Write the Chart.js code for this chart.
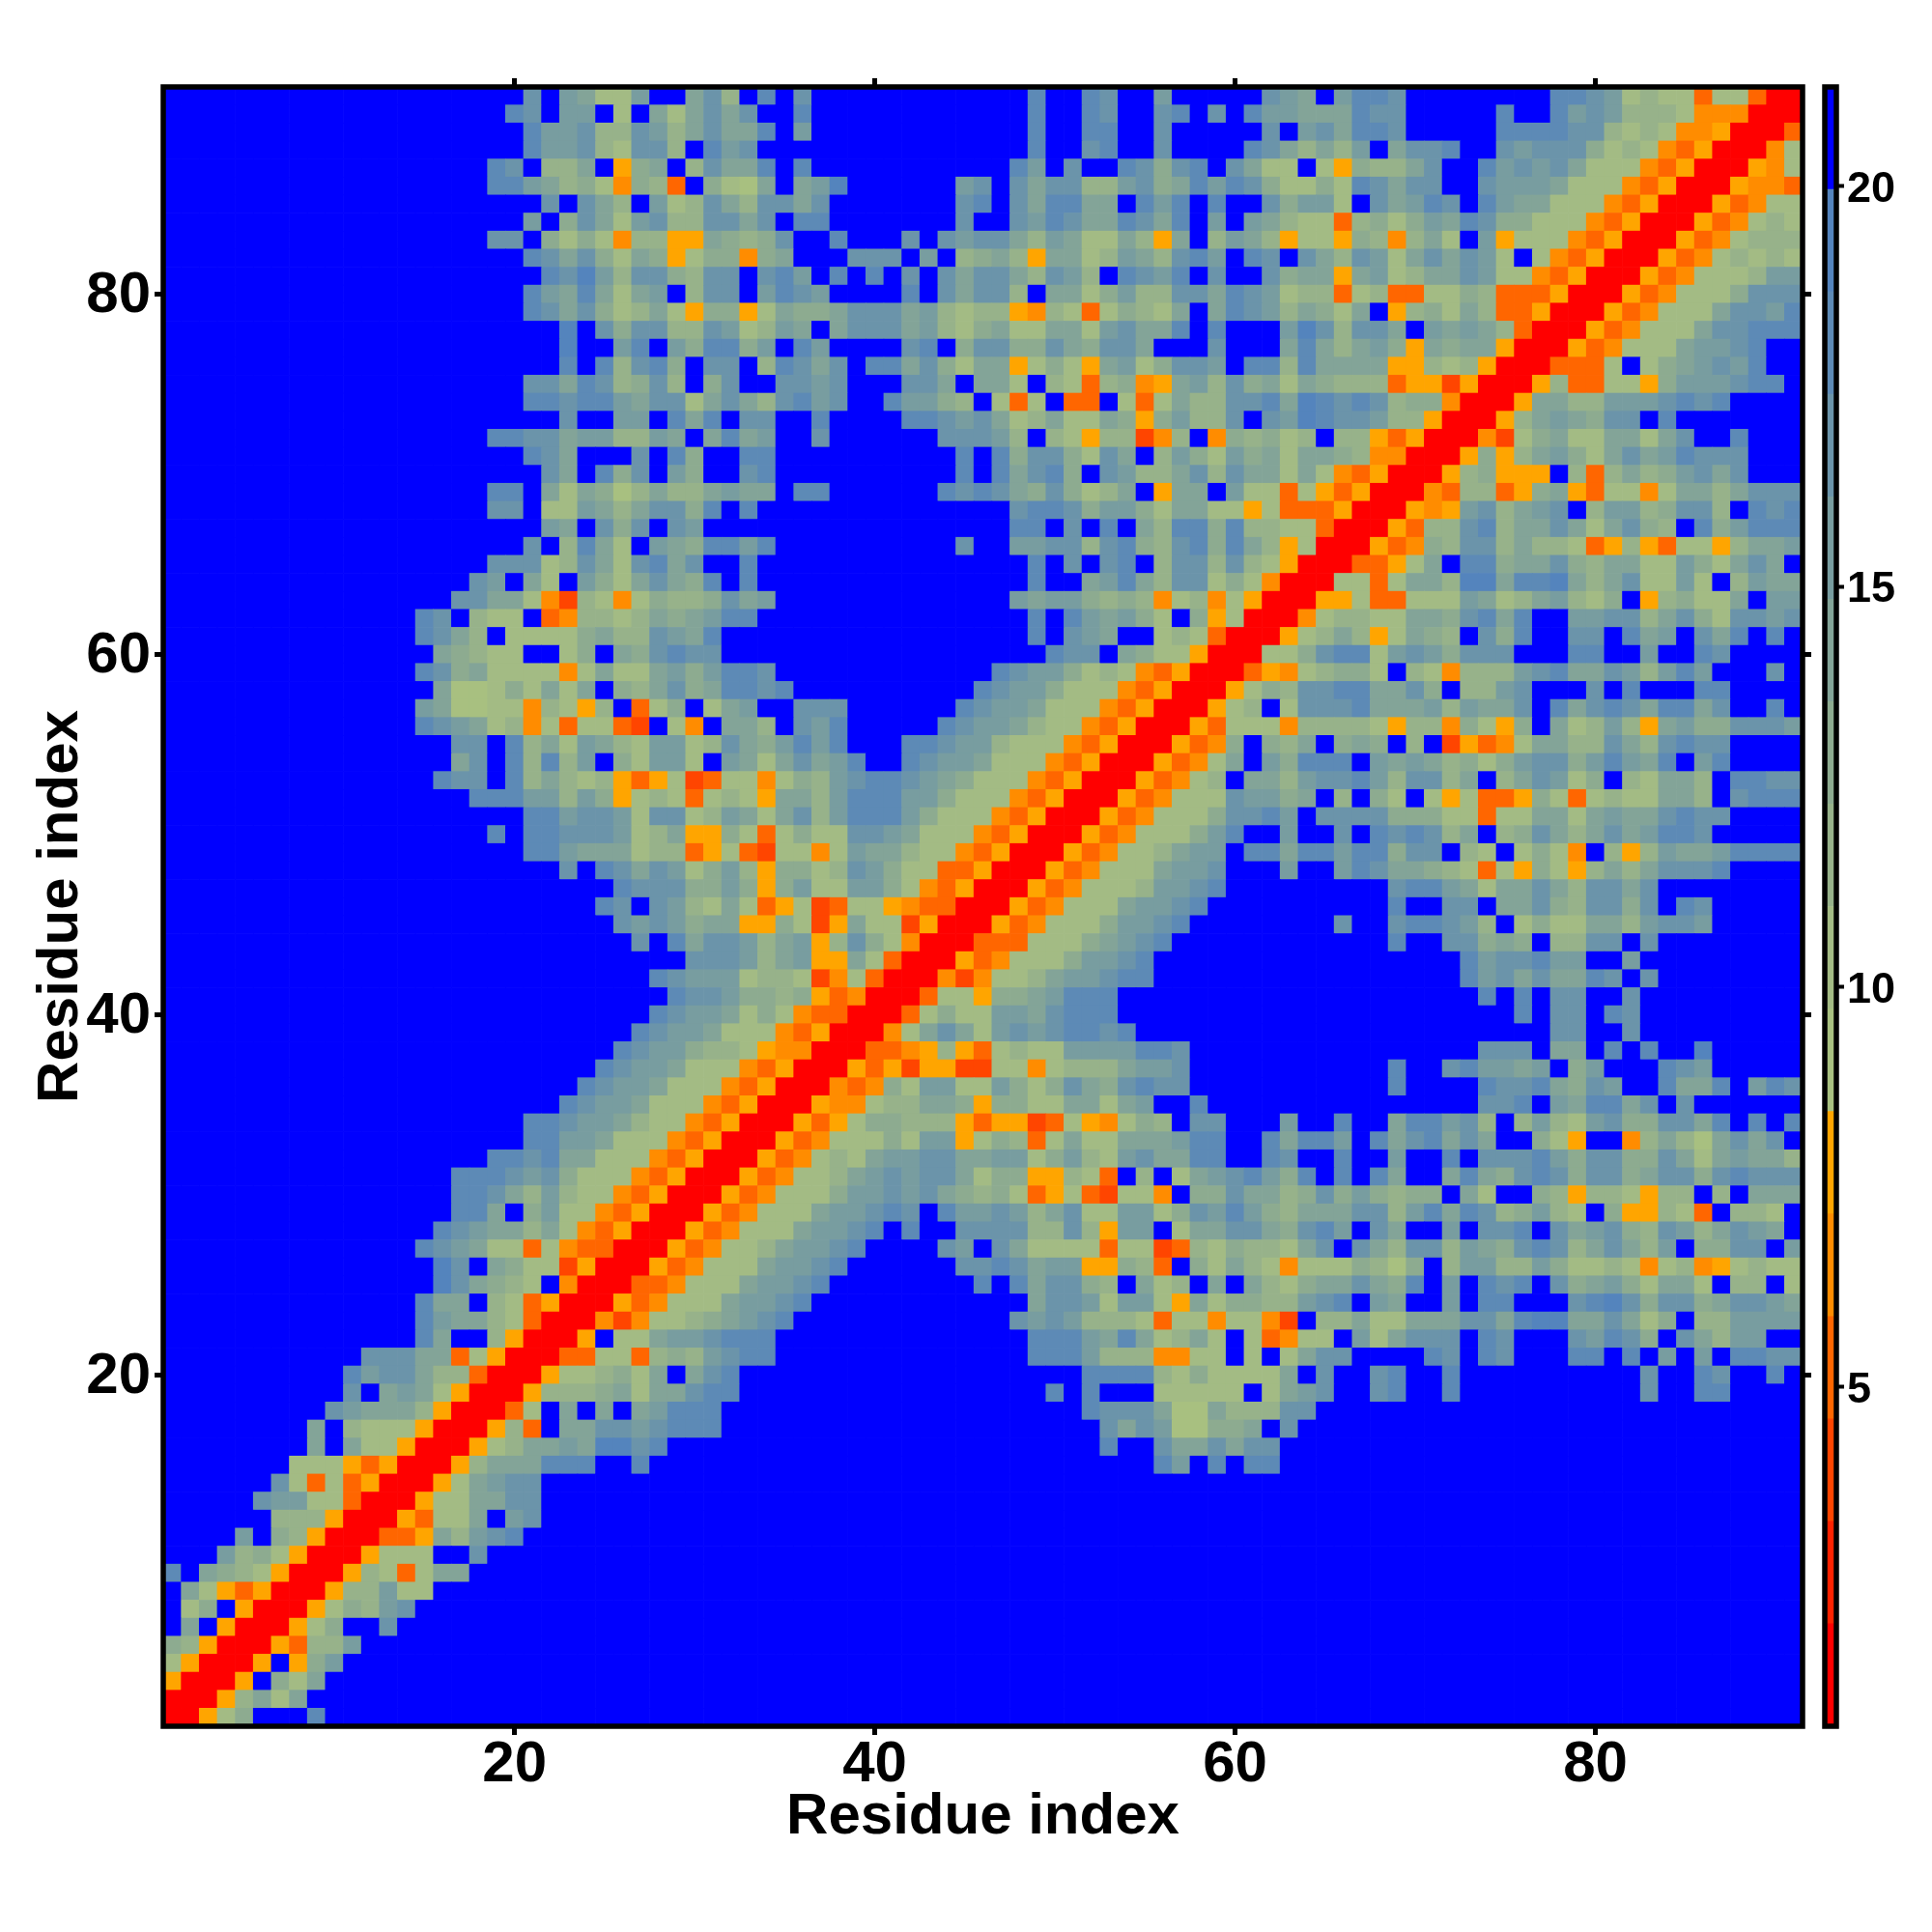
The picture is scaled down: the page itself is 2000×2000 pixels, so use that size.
<!DOCTYPE html>
<html>
<head>
<meta charset="utf-8">
<title>Residue distance map</title>
<script src="https://cdn.jsdelivr.net/npm/chart.js@4"></script>
<style>
  html, body { margin: 0; padding: 0; background: #fff; }
  #wrap { position: relative; width: 2000px; height: 2000px; }
  canvas { position: absolute; top: 0; }
  #mapChart { left: 0; }
  #barChart { left: 1800px; }
</style>
</head>
<body>
<div id="wrap">
  <canvas id="mapChart" width="2000" height="2000"></canvas>
  <canvas id="barChart" width="200" height="2000"></canvas>
</div>
<script>
// Tick labels
const mapTicks = [20, 40, 60, 80];
const barTicks = [5, 10, 15, 20];
const residueCount = 91;

// Colour bins, lowest distance first, and where they start on the colour bar
const binColors = ['#ff0000', '#ff2200', '#ff4500', '#ff6600', '#ff8c00', '#ffa500',
                   '#a8c080', '#a3bb84', '#97b28a', '#8dab90', '#83a498', '#789da0',
                   '#6b94aa', '#5d8ab6', '#5484bd', '#0000ff'];
const binEdges = [0.76, 2.04, 3.32, 4.6, 5.88, 7.16, 8.44, 9.72, 11, 12.28, 13.56,
                  14.84, 16.12, 17.4, 18.68, 19.96, 21.24];

// Map bin per cell, hex digit = index in binColors. One string per residue y,
// starting at x = y (the map is symmetric), spaces at every tenth x column.
// Anything past the end of a string is the last bin (blue).
const contactRows = [
  "00579fffdf",
  "0058a7aff",
  "005f97af",
  "005f59b",
  "005388 b",
  "00579 ffc",
  "0057 98bc",
  "005 88b77",
  "00 58737aa",
  "0 05777ffc",
  "00335a8bcd",
  "005377afb c",
  "00577aac c",
  "0057abc c",
  "0058aa adddffdfff ffffffffff ffffffffff fffffdbfdf ddffffffff",
  "00578 aabaeecdff ffffffffff ffffffffff ffdffcaaca ccffffffff",
  "0058 3faaccbcdd dfffffffff ffffffffff ffcacb6699 afcfffffff",
  "003 7fafafabdd dfffffffff ffffffffff fdccca66a8 88ccffffff",
  "00 58889a7aac ddffffffff fffffffffd fdfff77777 f7abcffcdf fdffffffff ffcffddfff",
  "0 0577897afa cdffffffff ffffffffff fdddd87977 77afcffcdf fdffffffff ffcffdcffd",
  "0033773898 bcddffffff ffffffffdd db8884477f 7f7accffff dcfdcfffdd fdfbfbfddc c",
  "005f77abb cdddffffff ffffffffdd dbada78a7f 73477fb7ac ccfdcfffcb dc9fca8bbf f",
  "00424778 9abcdfffff fffffffcbc b888737747 742f88a77a aaccadeeaa ca79f88bbb b",
  "0053477 7abbcdffff ffffffffac cb7bb75a79 988bcdfbaf fbfddfffcd ec9cc9accb a",
  "003347 77abbcdfff fffffdfdac c98fa78faf a879aaca9d fbfdcdfc9a b97aa7f88f 7",
  "00534 777abbcdff ffffccdcab b55983f97a 8747779869 f8bb88b977 8747845787 7",
  "0053 4778abbcdf fffcbfca77 7737723879 887acfca8c c8ba9cdc8a ca8bf99ccf b",
  "005 34777abbcd fdffcccc88 c85bbf7aac ca9cdbfcaf fbfccdfcab c98cb8acba f",
  "00 534777abbc dcfdbbcb8a c77bb79cbd b98aaacc8b dadc89b87f 955873f887 f",
  "0 05347779bb cbca989735 732774f99c aa89c9b989 9fa7ff9858 87588f8faa a",
  "00534778ab cbcca79955 873f8f7abc db9dfdfdaf fada9cdc9c c9acc9cdcc c",
  "00534787a bbccaabb79 b87bcaaddf fdcffdffbf fdfcccdb9c c99ca7abaa 8",
  "00534777 97bb579837 a77aaabddf fdaddbfdac dacaff975f f48a86acac f",
  "0053579 9888535523 754798fccf ffbffdffad dbc8f8b87b c99ccadfdf d",
  "005447 88aa959977 aa7abffdff ffffffffff fffccdfbad dacfcfffff f",
  "00434 97bb77b979 ca9cdccfff ffffffffdf fffdccda9c bffdaadfbd c",
  "0053 5255227747 888abbcfff ffffffffdf fcdbbabf9b fffdcbffff f",
  "003 3458537877 bbbbddcfff ffffffffff fffcccfaaf dfdffeffff f",
  "00 47aca7bcbc ddcdffffff ffffffffff fffffffccf fcffffffff f",
  "0 037977bbac dddfffffff ffffffffff fffffdfccf dcffffffff f",
  "00377599ab dddfffffff ffffffffff fffdfdfccf fcffffffff f",
  "00424778a bbcddfffff ffffffffff ffdbcacaad cfcfffffff f",
  "00534777 9bbcdfffff ffffffffff ffdbccdbbf fbffffffff f",
  "0033377 79abcdffff ffffffffdf fcc9a9f88c cfcfffffff f",
  "005347 779bbcdfff fffffcffcd dcb8f7977a a8bccbffff f",
  "00534 777abbcdff ffffffffdf fccfaac98c c9cfdcffff f",
  "0053 47778bbcdf ffffffffcd dba7aaca8c cacfffffff f",
  "005 34777abbcf ffbffbdcaa 9873759758 a8acccdfff f",
  "00 534778abbf ddaddbdd9c cf87f7974f 858baabddd d",
  "0 05347779bd ffbffcfdcd c8af89ca8a cabddcffff f",
  "005347779c cdbfcccc99 977377aa7a baacdccfff f",
  "00534777c bb9af8f97f 7573359737 877aa8fcdd d",
  "0053478f aa8bccdb8c c8af8acb79 f87aa8fddc c",
  "005347a fb9dddfbab a8979bcc9b dbadfbdfff f",
  "005349 f98af9a9f8 f25347aa88 ca8cdccfff f",
  "00537 7748888758 849759fa78 b85ab99ccc b",
  "0057 8f7cccdaaa b8baacfdac dcaddacffd f",
  "005 798ccddaac 9f88bcfffc fdfffddfff f",
  "00 35478997f8 74888bcdaa cb8bdbfffc f",
  "0 0779cdd7bc b9cccfffdd ffbffdcfff f",
  "00578a857a 98fc9dffcc fdabfcadfd f",
  "00478877a a9cdadffbb cc8ac97ccb c",
  "00557337 77ba78ab87 9f58977afb b",
  "007737a a8eeaddea8 ac77b7f8ba a",
  "003357 afdd9aac98 aa77b97aca f",
  "00534 98cc8a8873 58537758aa b",
  "0053 88cd8aaca7 ac98fd9bdd d",
  "005 45bc8abcf8 bb89cc8fdc d",
  "00 4388359a53 7747aa8acc c",
  "0 0589555f83 8a89bcacff f",
  "005958ab97 acabdcccff f",
  "004279a77 aa7acffdff f",
  "0058aba9 ccfdffffff f",
  "005aa88 bbbcdcdfff f",
  "005833 7759bbbcdd f",
  "00333 7f79abcbdf f",
  "0053 4777abbcdf f",
  "005 34777accdd d",
  "00 534777accb d",
  "0 05347779cc c",
  "005347778b b",
  "005347878 7",
  "00534788 8",
  "0053478 7",
  "005347 7",
  "00544 3",
  "0054 7",
  "004 7",
  "003",
  "00",
  "0"
];

const rows = contactRows.map(r => r.replace(/ /g, ''));
const residues = Array.from({ length: residueCount }, (_, i) => String(i + 1));

function binAt(x, y) {
  const lo = Math.min(x, y), hi = Math.max(x, y);
  return parseInt(rows[lo - 1][hi - lo] || 'f', 16);
}

// One dataset per row of the map, floating bars one residue tall
const mapDatasets = residues.map((_, r) => ({
  data: residues.map(() => [r + 0.5, r + 1.5]),
  backgroundColor: residues.map((_, c) => binColors[binAt(c + 1, r + 1)]),
  borderWidth: 0,
  grouped: false,
  barPercentage: 1,
  categoryPercentage: 1
}));

const barDatasets = binColors.map((color, i) => ({
  data: [[binEdges[i], binEdges[i + 1]]],
  backgroundColor: color,
  borderWidth: 0,
  grouped: false,
  barPercentage: 1,
  categoryPercentage: 1
}));

const framePlugin = {
  id: 'frame',
  afterDraw(chart) {
    const { ctx, chartArea: a } = chart;
    ctx.save();
    ctx.strokeStyle = '#000';
    ctx.lineWidth = 5.5;
    ctx.strokeRect(a.left, a.top, a.right - a.left, a.bottom - a.top);
    ctx.restore();
  }
};

const bold = size => ({ family: '"Liberation Sans", Arial, sans-serif', size: size, weight: 'bold' });
const tickGrid = { drawOnChartArea: false, offset: false, tickLength: 9, tickWidth: 5, tickColor: '#000' };
const keepX = axis => { axis.ticks = axis.ticks.filter(t => mapTicks.includes(t.value + 1)); };
const setY = (axis, values) => { axis.ticks = values.map(v => ({ value: v })); };

new Chart(document.getElementById('mapChart'), {
  type: 'bar',
  data: { labels: residues, datasets: mapDatasets },
  plugins: [framePlugin],
  options: {
    responsive: false,
    animation: false,
    events: [],
    plugins: { legend: { display: false }, tooltip: { enabled: false } },
    scales: {
      x: {
        type: 'category',
        position: 'bottom',
        offset: true,
        grid: tickGrid,
        border: { display: false },
        afterBuildTicks: keepX,
        afterFit: s => { s.height = 213; },
        ticks: { color: '#000', font: bold(60), padding: -5, maxRotation: 0, autoSkip: false },
        title: { display: true, text: 'Residue index', color: '#000', font: bold(60), padding: { top: 0, bottom: 83 } }
      },
      xTop: {
        type: 'category',
        axis: 'x',
        position: 'top',
        offset: true,
        grid: tickGrid,
        border: { display: false },
        afterBuildTicks: keepX,
        afterFit: s => { s.height = 90; },
        ticks: { display: false, autoSkip: false }
      },
      y: {
        type: 'linear',
        position: 'left',
        min: 0.5,
        max: residueCount + 0.5,
        grid: tickGrid,
        border: { display: false },
        afterBuildTicks: axis => setY(axis, mapTicks),
        afterFit: s => { s.width = 169; },
        ticks: { color: '#000', font: bold(60), padding: 4, labelOffset: 2 },
        title: { display: true, text: 'Residue index', color: '#000', font: bold(60), padding: { top: 27, bottom: 0 } }
      },
      yRight: {
        type: 'linear',
        axis: 'y',
        position: 'right',
        min: 0.5,
        max: residueCount + 0.5,
        grid: tickGrid,
        border: { display: false },
        afterBuildTicks: axis => setY(axis, mapTicks),
        afterFit: s => { s.width = 134; },
        ticks: { display: false }
      }
    }
  }
});

new Chart(document.getElementById('barChart'), {
  type: 'bar',
  data: { labels: ['distance'], datasets: barDatasets },
  plugins: [framePlugin],
  options: {
    responsive: false,
    animation: false,
    events: [],
    layout: { padding: { left: 89, top: 90, bottom: 213 } },
    plugins: { legend: { display: false }, tooltip: { enabled: false } },
    scales: {
      x: { display: false, offset: true },
      y: {
        type: 'linear',
        position: 'right',
        min: binEdges[0],
        max: binEdges[binEdges.length - 1],
        grid: { drawOnChartArea: false, tickLength: 8, tickWidth: 4, tickColor: '#000' },
        border: { display: false },
        afterBuildTicks: axis => setY(axis, barTicks),
        afterFit: s => { s.width = 99; },
        ticks: { color: '#000', font: bold(45), padding: 3, labelOffset: 4 }
      }
    }
  }
});
</script>
</body>
</html>
